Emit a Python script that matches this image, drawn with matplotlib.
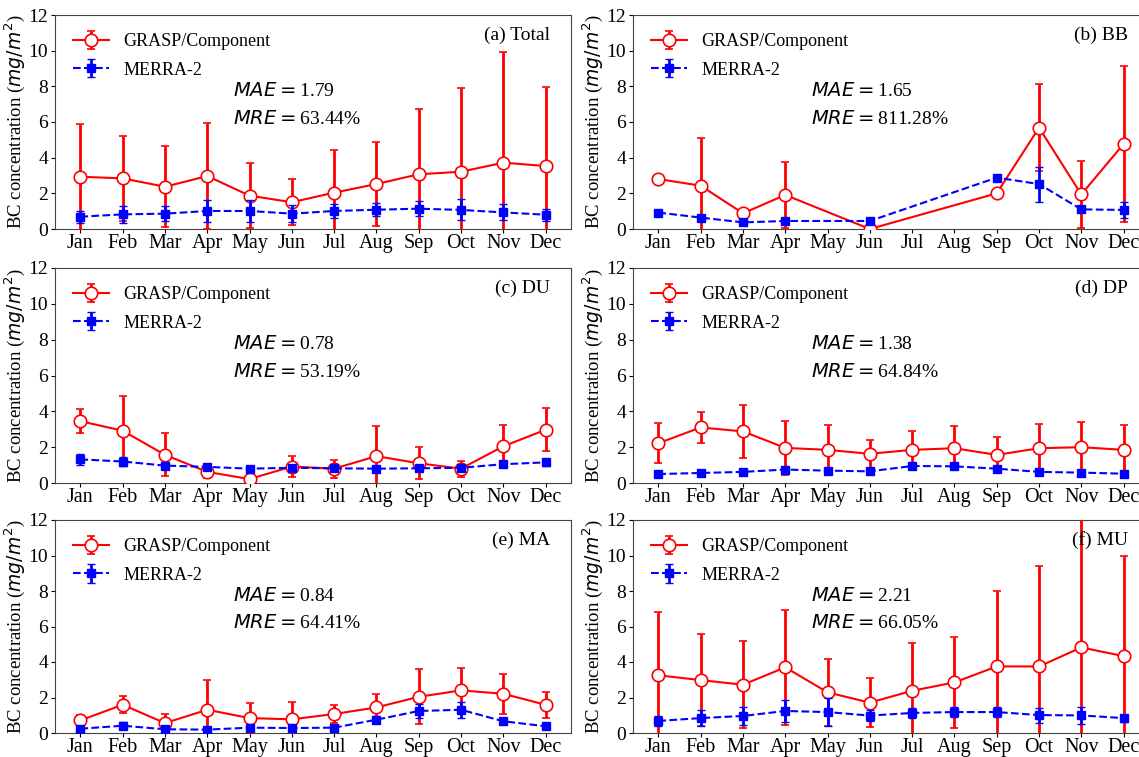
import matplotlib
matplotlib.use("Agg")
import matplotlib.pyplot as plt

plt.rcParams["font.family"] = ["Liberation Serif", "DejaVu Serif"]
plt.rcParams["mathtext.fontset"] = "dejavusans"

months = ["Jan", "Feb", "Mar", "Apr", "May", "Jun",
          "Jul", "Aug", "Sep", "Oct", "Nov", "Dec"]

# (a) Total
total_grasp = [2.93, 2.84, 2.37, 2.97, 1.87, 1.50, 2.04, 2.52, 3.07, 3.21, 3.72, 3.53]
total_grasp_err = [2.96, 2.37, 2.28, 2.99, 1.81, 1.29, 2.39, 2.34, 3.68, 4.68, 6.19, 4.45]
total_merra = [0.69, 0.82, 0.86, 1.01, 1.01, 0.86, 1.01, 1.08, 1.14, 1.07, 0.93, 0.80]
total_merra_err = [0.34, 0.47, 0.43, 0.62, 0.62, 0.49, 0.37, 0.36, 0.41, 0.59, 0.45, 0.34]

# (b) BB -- missing months are None (not plotted, lines join over the gap)
bb_grasp = [2.80, 2.43, 0.88, 1.91, None, 0.0, None, None, 2.00, 5.68, 1.94, 4.77]
bb_grasp_err = [0.0, 2.69, 0.0, 1.87, None, 0.0, None, None, 0.0, 2.43, 1.88, 4.38]
bb_merra = [0.92, 0.64, 0.37, 0.45, None, 0.45, None, None, 2.88, 2.52, 1.10, 1.07]
bb_merra_err = [0.0, 0.0, 0.0, 0.0, None, 0.0, None, None, 0.0, 0.98, 0.10, 0.46]

# (c) DU
du_grasp = [3.45, 2.92, 1.57, 0.62, 0.22, 0.92, 0.80, 1.50, 1.10, 0.80, 2.05, 2.97]
du_grasp_err = [0.68, 1.95, 1.20, 0.35, 0.05, 0.60, 0.50, 1.70, 0.90, 0.45, 1.20, 1.20]
du_merra = [1.32, 1.20, 0.97, 0.90, 0.80, 0.85, 0.82, 0.80, 0.82, 0.85, 1.05, 1.15]
du_merra_err = [0.30, 0.25, 0.10, 0.10, 0.05, 0.10, 0.10, 0.10, 0.05, 0.10, 0.10, 0.20]

# (d) DP
dp_grasp = [2.22, 3.10, 2.88, 1.96, 1.85, 1.63, 1.85, 1.94, 1.57, 1.94, 2.00, 1.85]
dp_grasp_err = [1.13, 0.86, 1.46, 1.50, 1.40, 0.78, 1.07, 1.22, 0.99, 1.37, 1.40, 1.36]
dp_merra = [0.50, 0.56, 0.62, 0.75, 0.69, 0.65, 0.95, 0.93, 0.80, 0.62, 0.58, 0.52]
dp_merra_err = [0.05, 0.05, 0.05, 0.10, 0.08, 0.05, 0.08, 0.10, 0.15, 0.05, 0.05, 0.05]

# (e) MA
ma_grasp = [0.71, 1.59, 0.56, 1.31, 0.84, 0.77, 1.07, 1.44, 2.04, 2.40, 2.21, 1.59]
ma_grasp_err = [0.28, 0.47, 0.49, 1.69, 0.85, 0.97, 0.49, 0.77, 1.54, 1.26, 1.13, 0.72]
ma_merra = [0.24, 0.41, 0.21, 0.19, 0.30, 0.28, 0.30, 0.75, 1.24, 1.31, 0.66, 0.38]
ma_merra_err = [0.10, 0.20, 0.05, 0.05, 0.05, 0.05, 0.05, 0.20, 0.40, 0.45, 0.05, 0.05]

# (f) MU
mu_grasp = [3.25, 2.98, 2.72, 3.70, 2.29, 1.71, 2.38, 2.85, 3.75, 3.75, 4.82, 4.33]
mu_grasp_err = [3.56, 2.57, 2.44, 3.24, 1.89, 1.37, 2.70, 2.55, 4.24, 5.65, 7.60, 5.65]
mu_merra = [0.68, 0.84, 0.96, 1.24, 1.18, 0.98, 1.13, 1.18, 1.18, 1.01, 0.99, 0.84]
mu_merra_err = [0.30, 0.45, 0.50, 0.60, 0.80, 0.30, 0.30, 0.30, 0.30, 0.42, 0.50, 0.20]

panels = [
    ("(a) Total", total_grasp, total_grasp_err, total_merra, total_merra_err, "1.79", "63.44%"),
    ("(b) BB", bb_grasp, bb_grasp_err, bb_merra, bb_merra_err, "1.65", "811.28%"),
    ("(c) DU", du_grasp, du_grasp_err, du_merra, du_merra_err, "0.78", "53.19%"),
    ("(d) DP", dp_grasp, dp_grasp_err, dp_merra, dp_merra_err, "1.38", "64.84%"),
    ("(e) MA", ma_grasp, ma_grasp_err, ma_merra, ma_merra_err, "0.84", "64.41%"),
    ("(f) MU", mu_grasp, mu_grasp_err, mu_merra, mu_merra_err, "2.21", "66.05%"),
]

W, H = 1139, 757
fig = plt.figure(figsize=(W / 100, H / 100), dpi=100)

# axes boxes in pixels: left, top, right, bottom
col_x = [(55, 571), (633, 1149)]
row_y = [(15, 229), (268, 483), (520, 733)]


def present(vals, errs):
    xs = [i for i, v in enumerate(vals) if v is not None]
    return xs, [vals[i] for i in xs], [errs[i] for i in xs]


for k, (label, g, ge, m, me, mae, mre) in enumerate(panels):
    (x0, x1), (y0, y1) = col_x[k % 2], row_y[k // 2]
    ax = fig.add_axes([x0 / W, 1 - y1 / H, (x1 - x0) / W, (y1 - y0) / H])

    xs, gv, gerr = present(g, ge)
    ax.errorbar(xs, gv, yerr=gerr, color="red", lw=1.5, elinewidth=2, capsize=3,
                marker="o", ms=9, mfc="white", mec="red", mew=1.2,
                label="GRASP/Component", zorder=3)
    xs, mv, merr = present(m, me)
    ax.errorbar(xs, mv, yerr=merr, color="blue", ls="--", lw=1.5, elinewidth=2, capsize=3,
                marker="s", ms=6, label="MERRA-2", zorder=4)

    ax.set_xlim(-0.6, 11.6)
    ax.set_ylim(0, 12)
    ax.set_xticks(range(12))
    ax.set_xticklabels(months)
    ax.set_yticks(range(0, 13, 2))
    ax.tick_params(axis="x", labelsize=14.5, pad=0.5, length=3)
    ax.tick_params(axis="y", labelsize=14, pad=2, length=3)
    for s in ax.spines.values():
        s.set_color("#444444")
    ax.set_ylabel("BC concentration ($mg/m^2$)", fontsize=13.5, labelpad=1)

    ax.legend(loc="upper left", frameon=False, fontsize=13, handlelength=2.0,
              borderaxespad=0.6, labelspacing=0.65)
    ax.text(0.96, 0.905, label, transform=ax.transAxes, ha="right", va="center", fontsize=14)
    ax.text(0.345, 0.645, "$MAE=$" + mae, transform=ax.transAxes, ha="left", va="center", fontsize=14)
    ax.text(0.345, 0.515, "$MRE=$" + mre, transform=ax.transAxes, ha="left", va="center", fontsize=14)

fig.savefig("out.png", dpi=100)
